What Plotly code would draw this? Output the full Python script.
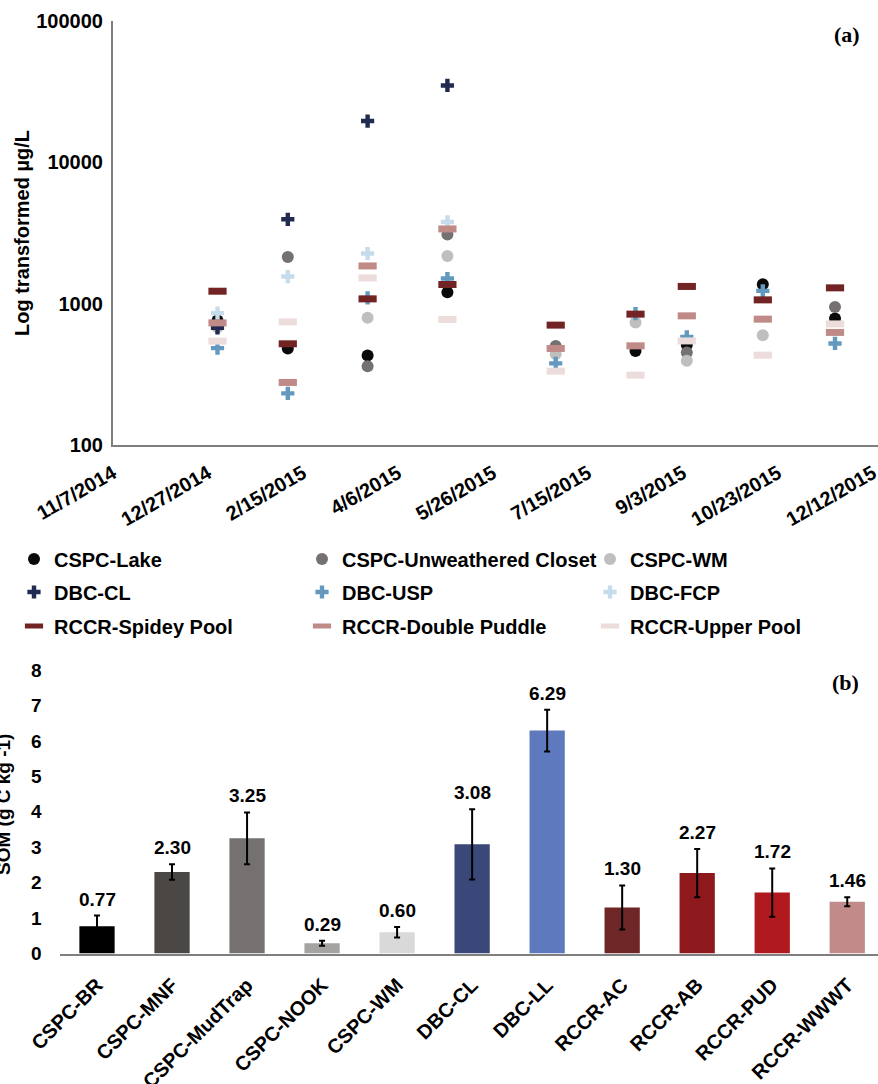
import plotly.graph_objects as go

# ---------------- Panel (a) data ----------------
sample_dates = ["2015-01-01", "2015-02-07", "2015-03-21", "2015-05-02", "2015-06-28",
                "2015-08-09", "2015-09-05", "2015-10-15", "2015-11-22"]

cspc_lake = [760, 482, 430, 1206, None, 462, 509, 1374, 785]
cspc_unweathered = [700, 2142, 361, 3085, 501, None, 452, None, 948]
cspc_wm = [680, None, 794, 2178, 440, 736, 394, 598, None]
dbc_cl = [675, 3954, 19600, 35000, None, None, None, None, None]
dbc_usp = [485, 232, 1099, 1507, 378, 850, 582, 1231, 523]
dbc_fcp = [857, 1556, 2265, 3785, None, None, None, None, None]
rccr_spidey = [1225, 520, 1081, 1366, 705, 843, 1324, 1064, 1294]
rccr_double = [731, 277, 1849, 3378, 482, 503, 820, 777, 626]
rccr_upper = [543, 743, 1521, 773, 333, 312, 545, 432, 719]

x_tick_dates = ["2014-11-07", "2014-12-27", "2015-02-15", "2015-04-06", "2015-05-26",
                "2015-07-15", "2015-09-03", "2015-10-23", "2015-12-12"]
x_tick_text = ["11/7/2014", "12/27/2014", "2/15/2015", "4/6/2015", "5/26/2015",
               "7/15/2015", "9/3/2015", "10/23/2015", "12/12/2015"]
y_tick_vals = [100, 1000, 10000, 100000]
y_tick_text = ["100", "1000", "10000", "100000"]

# ---------------- Panel (b) data ----------------
som_sites = ["CSPC-BR", "CSPC-MNF", "CSPC-MudTrap", "CSPC-NOOK", "CSPC-WM", "DBC-CL",
             "DBC-LL", "RCCR-AC", "RCCR-AB", "RCCR-PUD", "RCCR-WWWT"]
som_values = [0.77, 2.30, 3.25, 0.29, 0.60, 3.08, 6.29, 1.30, 2.27, 1.72, 1.46]
som_errors = [0.30, 0.22, 0.73, 0.07, 0.15, 0.99, 0.59, 0.62, 0.68, 0.68, 0.13]
som_colors = ["#000000", "#4a4745", "#767171", "#a5a3a2", "#d9d9d9", "#394779",
              "#5f79be", "#6f2626", "#8e191d", "#b0191e", "#c08b88"]

FONT = "Liberation Sans, Arial, sans-serif"
SERIF = "Liberation Serif, Times New Roman, serif"
W, H = 878, 1084

fig = go.Figure()

series = [
    ("CSPC-Lake", cspc_lake, "circle", "#0a0a0a", "legend"),
    ("CSPC-Unweathered Closet", cspc_unweathered, "circle", "#767171", "legend"),
    ("CSPC-WM", cspc_wm, "circle", "#bfbfbf", "legend"),
    ("DBC-CL", dbc_cl, "cross", "#222a50", "legend2"),
    ("DBC-USP", dbc_usp, "cross", "#6399be", "legend2"),
    ("DBC-FCP", dbc_fcp, "cross", "#c7dcea", "legend2"),
    ("RCCR-Spidey Pool", rccr_spidey, "line-ew", "#722424", "legend3"),
    ("RCCR-Double Puddle", rccr_double, "line-ew", "#c08a87", "legend3"),
    ("RCCR-Upper Pool", rccr_upper, "line-ew", "#ecdcdc", "legend3"),
]

for name, vals, sym, col, leg in series:
    if sym == "circle":
        marker = dict(symbol="circle", size=12, color=col, line=dict(width=0))
    elif sym == "cross":
        marker = dict(symbol="cross", size=11, color=col, line=dict(width=0))
    else:
        marker = dict(symbol="line-ew", size=13, color=col, line=dict(width=7, color=col))
    fig.add_trace(go.Scatter(x=sample_dates, y=vals, mode="markers", name=name,
                             marker=marker, xaxis="x", yaxis="y", legend=leg,
                             cliponaxis=False))

fig.add_trace(go.Bar(x=som_sites, y=som_values, marker=dict(color=som_colors, line=dict(width=0)),
                     error_y=dict(type="data", array=som_errors, color="#000000",
                                  thickness=2, width=3),
                     xaxis="x2", yaxis="y2", showlegend=False, width=0.47))

annotations = []
for s, v, e in zip(som_sites, som_values, som_errors):
    annotations.append(dict(x=s, y=v + e, xref="x2", yref="y2", text=f"{v:.2f}",
                            showarrow=False, yanchor="bottom", yshift=4,
                            font=dict(family=FONT, size=19, color="black", weight="bold")))

def py(px):
    return 1 - px / H

annotations += [
    dict(text="Log transformed µg/L", x=22 / W, y=py(233), xref="paper", yref="paper",
         textangle=-90, showarrow=False, xanchor="center", yanchor="middle",
         font=dict(family=FONT, size=20, color="black", weight="bold")),
    dict(text="SOM (g C kg -1)", x=3 / W, y=py(805), xref="paper", yref="paper",
         textangle=-90, showarrow=False, xanchor="center", yanchor="middle",
         font=dict(family=FONT, size=19, color="black", weight="bold")),
    dict(text="(a)", x=847 / W, y=py(35), xref="paper", yref="paper", showarrow=False,
         xanchor="center", yanchor="middle",
         font=dict(family=SERIF, size=22, color="black", weight="bold")),
    dict(text="(b)", x=845 / W, y=py(682), xref="paper", yref="paper", showarrow=False,
         xanchor="center", yanchor="middle",
         font=dict(family=SERIF, size=22, color="black", weight="bold")),
]

tick_font = dict(family=FONT, size=20, color="black", weight="bold")
leg_font = dict(family=FONT, size=20, color="black", weight="bold")

def leg(ypx):
    return dict(orientation="h", x=14 / W, xanchor="left", y=py(ypx), yanchor="middle",
                entrywidth=243, entrywidthmode="pixels", font=leg_font,
                bgcolor="rgba(0,0,0,0)", itemwidth=30, traceorder="normal")

fig.update_layout(
    width=W, height=H,
    margin=dict(l=0, r=0, t=0, b=0, autoexpand=False),
    paper_bgcolor="white", plot_bgcolor="white",
    showlegend=True,
    legend=leg(559), legend2=leg(592), legend3=leg(626),
    xaxis=dict(domain=[113 / W, 1], type="date", automargin=False,
               range=["2014-11-07", "2015-12-14 15:00"],
               tickvals=x_tick_dates, ticktext=x_tick_text, tickangle=-30,
               ticklabeloverflow="allow",
               tickfont=tick_font, showgrid=False, zeroline=False,
               showline=True, linecolor="#7f7f7f", linewidth=2,
               ticks="outside", ticklen=7, tickcolor="rgba(0,0,0,0)", anchor="y"),
    yaxis=dict(domain=[py(445), py(21)], type="log", range=[2, 5], automargin=False,
               tickvals=y_tick_vals, ticktext=y_tick_text, tickfont=tick_font,
               showgrid=False, zeroline=False, showline=True, linecolor="#7f7f7f",
               linewidth=2, ticks="outside", ticklen=4, tickcolor="rgba(0,0,0,0)",
               anchor="x"),
    xaxis2=dict(domain=[59.5 / W, 1], range=[-0.5, 10.41], tickangle=-45, automargin=False,
                ticklabeloverflow="allow",
                tickfont=tick_font, showgrid=False, zeroline=False, showline=True,
                linecolor="#7f7f7f", linewidth=2, ticks="outside", ticklen=10,
                tickcolor="rgba(0,0,0,0)", anchor="y2"),
    yaxis2=dict(domain=[py(953.5), py(670)], range=[0, 8], dtick=1, automargin=False,
                tickfont=dict(family=FONT, size=19, color="black", weight="bold"),
                showgrid=False, zeroline=False, showline=False, ticks="outside",
                ticklen=13, tickcolor="rgba(0,0,0,0)", anchor="x2"),
    annotations=annotations,
)

fig.write_html("out.html", config={"displayModeBar": False},
               post_script="document.body.style.margin='0px';")
